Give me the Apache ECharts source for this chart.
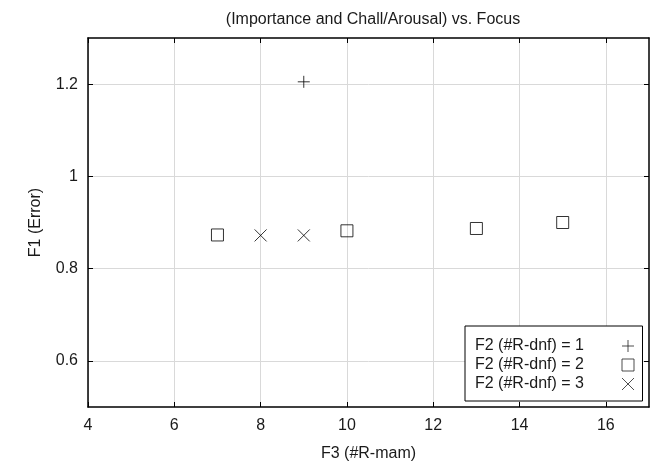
<!DOCTYPE html>
<html><head><meta charset="utf-8">
<script src="https://cdn.jsdelivr.net/npm/echarts@6/dist/echarts.min.js"></script>
<style>html,body{margin:0;padding:0;background:#fff}#c{width:650px;height:462px}</style>
</head><body><div id="c"></div>
<script>
const titleText = '(Importance and Chall/Arousal) vs. Focus';
const xName = 'F3 (#R-mam)';
const yName = 'F1 (Error)';
const xTicks = [4, 6, 8, 10, 12, 14, 16];
const yTicks = [0.6, 0.8, 1, 1.2];
const seriesNames = ['F2 (#R-dnf) = 1', 'F2 (#R-dnf) = 2', 'F2 (#R-dnf) = 3'];
const s1 = [[9, 1.205]];
const s2 = [[7, 0.873], [10, 0.882], [13, 0.887], [15, 0.900]];
const s3 = [[8, 0.872], [9, 0.872]];

const FONT = 'Liberation Sans, Arial, sans-serif';
const FS = 16;
const plusPath = 'path://M5,0L5,10M0,5L10,5';
const crossPath = 'path://M0,0L10,10M10,0L0,10';
const markStyle = {color: 'transparent', borderColor: '#000', borderWidth: 1};

const chart = echarts.init(document.getElementById('c'), null, {renderer: 'canvas'});
const axisLine = {show: true, onZero: false, lineStyle: {color: '#000', width: 1.5}};
const tick = vals => ({show: true, inside: true, length: 5, lineStyle: {color: '#000'}, customValues: vals});
chart.setOption({
  animation: false,
  textStyle: {fontFamily: FONT},
  title: {text: titleText, left: 368, top: 7, textAlign: 'center',
    textStyle: {fontFamily: FONT, fontSize: FS, fontWeight: 'normal', color: '#1a1a1a'}},
  grid: {left: 88, right: 1, top: 38, bottom: 55, show: false, containLabel: false, outerBoundsMode: 'none'},
  xAxis: [{
    type: 'value', min: 4, max: 17, interval: 2, position: 'bottom',
    name: xName, nameLocation: 'middle', nameGap: 39,
    nameTextStyle: {fontFamily: FONT, fontSize: FS, color: '#1a1a1a'},
    axisLine: axisLine, axisTick: tick(xTicks),
    axisLabel: {customValues: xTicks, fontFamily: FONT, fontSize: FS, color: '#1a1a1a', margin: 11},
    splitLine: {show: true, lineStyle: {color: '#d9d9d9', width: 1}}
  }, {
    type: 'value', min: 4, max: 17, position: 'top',
    axisLine: axisLine, axisTick: tick(xTicks),
    axisLabel: {show: false}, splitLine: {show: false}
  }],
  yAxis: [{
    type: 'value', min: 0.5, max: 1.3, position: 'left',
    name: yName, nameLocation: 'middle', nameGap: 44,
    nameTextStyle: {fontFamily: FONT, fontSize: FS, color: '#1a1a1a'},
    axisLine: axisLine, axisTick: tick(yTicks),
    axisLabel: {customValues: yTicks, fontFamily: FONT, fontSize: FS, color: '#1a1a1a', margin: 10},
    splitLine: {show: true, lineStyle: {color: '#d9d9d9', width: 1}}
  }, {
    type: 'value', min: 0.5, max: 1.3, position: 'right',
    axisLine: axisLine, axisTick: tick(yTicks),
    axisLabel: {show: false}, splitLine: {show: false}
  }],
  legend: {
    left: 465, top: 326, orient: 'vertical', align: 'right',
    backgroundColor: '#fff', borderColor: '#000', borderWidth: 1, borderRadius: 0,
    padding: [12, 8, 9, 10], itemGap: 3, itemWidth: 12, itemHeight: 12,
    itemStyle: {borderWidth: 1, color: 'transparent', borderColor: '#222'},
    formatter: n => '{a|' + n + '}',
    textStyle: {fontFamily: FONT, fontSize: FS, color: '#1a1a1a',
      rich: {a: {width: 142, align: 'left', fontFamily: FONT, fontSize: FS, color: '#1a1a1a', lineHeight: 16}}},
    data: seriesNames
  },
  series: [
    {name: seriesNames[0], type: 'scatter', data: s1, symbol: plusPath, symbolSize: 12, itemStyle: markStyle},
    {name: seriesNames[1], type: 'scatter', data: s2, symbol: 'rect', symbolSize: 12, itemStyle: markStyle},
    {name: seriesNames[2], type: 'scatter', data: s3, symbol: crossPath, symbolSize: 12, itemStyle: markStyle}
  ]
});
</script></body></html>
